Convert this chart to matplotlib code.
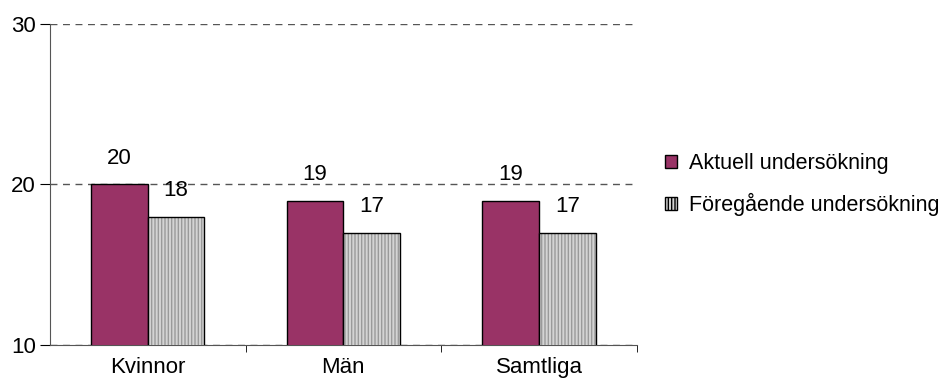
import numpy as np
import matplotlib
matplotlib.use("Agg")
import matplotlib.pyplot as plt
from matplotlib.patches import Patch

plt.rcParams['font.family'] = ['Liberation Sans', 'DejaVu Sans']

categories = ['Kvinnor', 'Män', 'Samtliga']
aktuell = [20, 19, 19]
foregaende = [18, 17, 17]
series_names = ['Aktuell undersökning', 'Föregående undersökning']

fig = plt.figure(figsize=(9.42, 3.88), dpi=100)
ax = fig.add_axes([0.053, 0.111, 0.623, 0.827])

x = np.arange(len(categories))
w = 0.29
fs = 16

ax.bar(x - w / 2, aktuell, w, color='#993366', edgecolor='black',
       linewidth=1, zorder=3)
# gray hatched bars: hatch drawn in gray, then black outline on top
ax.bar(x + w / 2, foregaende, w, color='#d4d4d4', edgecolor='#9a9a9a',
       hatch='|||||', linewidth=0, zorder=3)
ax.bar(x + w / 2, foregaende, w, color='none', edgecolor='black',
       linewidth=1, zorder=4)

for xi, v in zip(x - w / 2, aktuell):
    ax.annotate(str(v), (xi, v), xytext=(0, 19), textcoords='offset points',
                ha='center', va='center', fontsize=fs)
for xi, v in zip(x + w / 2, foregaende):
    ax.annotate(str(v), (xi, v), xytext=(0, 19), textcoords='offset points',
                ha='center', va='center', fontsize=fs)

ax.set_ylim(10, 30)
ax.set_yticks([10, 20, 30])
ax.set_xlim(-0.5, 2.5)
ax.set_xticks(x)
ax.set_xticklabels(categories, fontsize=fs)
ax.set_xticks([0.5, 1.5, 2.5], minor=True)
ax.tick_params(axis='x', which='major', length=0, pad=9)
ax.tick_params(axis='x', which='minor', length=5, direction='out', color='black')
ax.tick_params(axis='y', length=7, direction='out', labelsize=fs, color='black', pad=3)

ax.yaxis.grid(True, linestyle=(0, (5, 4)), color='#555555', linewidth=1)
ax.set_axisbelow(True)
for s in ['top', 'right']:
    ax.spines[s].set_visible(False)
ax.spines['left'].set_color('#555555')
ax.spines['bottom'].set_color('#555555')

handles = [Patch(facecolor='#993366', edgecolor='black'),
           Patch(facecolor='#d4d4d4', edgecolor='black', hatch='|||||')]
fig.legend(handles, series_names, loc='center left', bbox_to_anchor=(0.706, 0.524),
           frameon=False, fontsize=15.5, handlelength=0.55, handleheight=0.55,
           handletextpad=0.55, labelspacing=0.9, borderaxespad=0, borderpad=0)

fig.savefig('out.png', dpi=100)
